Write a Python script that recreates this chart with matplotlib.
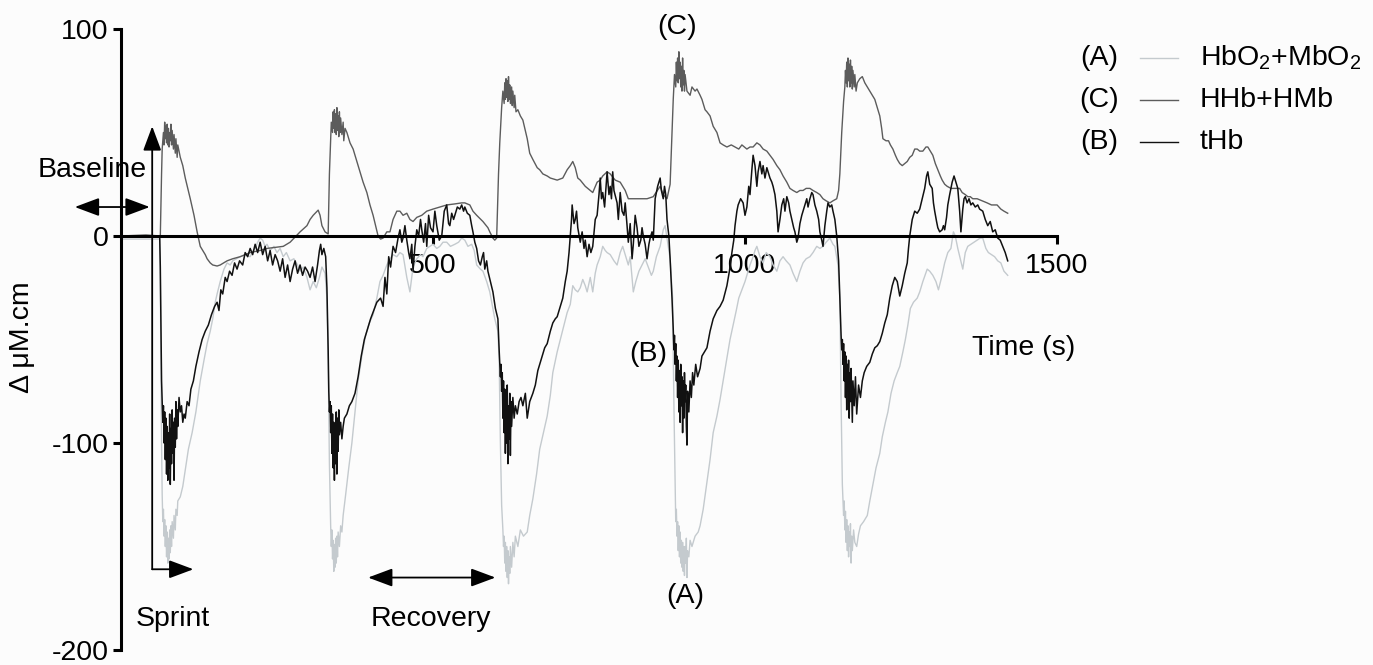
import matplotlib
matplotlib.use("Agg")
import matplotlib.pyplot as plt
from matplotlib.lines import Line2D

plt.rcParams["font.family"] = ["Liberation Sans", "DejaVu Sans"]
plt.rcParams["mathtext.fontset"] = "custom"
plt.rcParams["mathtext.rm"] = "Liberation Sans"
plt.rcParams["mathtext.it"] = "Liberation Sans:italic"
plt.rcParams["axes.unicode_minus"] = False

# ---- NIRS traces: (time s, delta uM.cm) ----
hbo2_pts = [
    (0, -1.5), (62, -1.5),
    (63, -20), (64, -60), (65, -100), (66, -125), (67, -138), (68, -132), (69, -145), (70, -137),
    (71, -150), (72, -140), (73, -155), (74, -143), (75, -158), (76, -146), (77, -156), (78, -142),
    (79, -153), (80, -140), (81, -150), (82, -138), (84, -146), (85, -135), (87, -142), (88, -132),
    (90, -135), (91, -128), (95, -126), (99, -121), (103, -113), (108, -103), (114, -95), (120, -85),
    (127, -70), (133, -60), (138, -52), (143, -46), (147, -40), (151, -32), (154, -28), (159, -22),
    (165, -16), (170, -13), (175, -14), (179, -12), (185, -11), (191, -10), (199, -9), (207, -10),
    (212, -7), (215, -6), (219, -3), (223, -1), (227, -2), (231, -5), (234, -4), (239, -7), (245, -5),
    (250, -8), (255, -6), (260, -10), (265, -8), (271, -12), (277, -11), (283, -14), (287, -17),
    (292, -15), (298, -20), (303, -26), (308, -22), (313, -25), (318, -20), (322, -15), (327, -18),
    (330, -30),
    (332, -60), (334, -110), (336, -140), (337, -150), (338, -142), (339, -156), (340, -147),
    (341, -162), (342, -149), (343, -160), (344, -146), (345, -158), (346, -145), (347, -155),
    (348, -143), (350, -150), (352, -140), (354, -143), (356, -135), (360, -125), (365, -112),
    (370, -100), (375, -85), (380, -70), (386, -58), (392, -48), (398, -42), (404, -38), (410, -30),
    (415, -22), (420, -19), (426, -14), (431, -11), (436, -9), (442, -10), (447, -8), (452, -9),
    (458, -20), (463, -27), (468, -15), (474, -11), (480, -9), (484, -10), (490, -6), (495, -5),
    (500, -4), (506, -6), (511, -5), (516, -3), (522, -3), (528, -5), (535, -4), (541, -3), (546, -1),
    (551, -2), (556, -5), (562, -4), (566, -7), (570, -14), (576, -16), (580, -17), (586, -22),
    (591, -27), (596, -35), (599, -40), (604, -46), (606, -60),
    (608, -100), (610, -130), (612, -142), (613, -150), (614, -145), (615, -158), (616, -148),
    (617, -162), (618, -150), (619, -165), (620, -152), (621, -168), (622, -155), (623, -163),
    (624, -150), (626, -160), (628, -148), (630, -155), (632, -145), (636, -150), (640, -142),
    (645, -145), (651, -143), (655, -135), (660, -127), (666, -115), (671, -103), (677, -95),
    (683, -87), (688, -77), (692, -66), (699, -56), (704, -50), (710, -43), (715, -37), (720, -33),
    (724, -24), (728, -26), (732, -27), (736, -25), (740, -21), (744, -24), (747, -27), (752, -20),
    (756, -27), (760, -18), (763, -14), (768, -10), (772, -5), (776, -7), (779, -8), (784, -9),
    (790, -12), (795, -14), (800, -8), (804, -5), (808, -9), (813, -14), (816, -10), (819, -20),
    (821, -27), (825, -22), (830, -17), (835, -14), (840, -11), (845, -15), (850, -19), (853, -17),
    (858, -10), (864, -5), (869, 3), (872, 5), (875, -1), (880, -11), (884, -30),
    (886, -80), (888, -120), (889, -138), (890, -132), (891, -145), (892, -138), (893, -152),
    (894, -140), (895, -155), (896, -143), (897, -158), (898, -147), (899, -160), (900, -148),
    (901, -162), (902, -150), (903, -164), (904, -150), (905, -158), (906, -146), (907, -165),
    (908, -152), (910, -155), (912, -147), (915, -150), (920, -145), (925, -143), (928, -140),
    (933, -132), (939, -119), (944, -108), (949, -95), (955, -87), (960, -79), (966, -68),
    (971, -59), (976, -50), (981, -43), (986, -36), (990, -30), (995, -26), (1000, -22), (1004, -18),
    (1008, -14), (1013, -10), (1016, -7), (1019, -5), (1024, -10), (1029, -13), (1034, -8),
    (1040, -10), (1045, -14), (1051, -17), (1056, -12), (1061, -10), (1066, -12), (1072, -14),
    (1077, -18), (1083, -22), (1088, -17), (1093, -13), (1098, -11), (1104, -10), (1109, -8),
    (1115, -5), (1120, -6), (1125, -5), (1130, -3), (1136, -1), (1141, -4), (1144, -5), (1149, -14),
    (1152, -30),
    (1154, -80), (1156, -120), (1158, -135), (1159, -128), (1160, -142), (1161, -133), (1162, -148),
    (1163, -137), (1164, -152), (1165, -140), (1166, -155), (1167, -143), (1168, -150), (1169, -139),
    (1170, -158), (1171, -145), (1172, -152), (1174, -142), (1176, -148), (1179, -150), (1182, -144),
    (1185, -140), (1190, -138), (1196, -135), (1200, -128), (1205, -120), (1210, -112), (1216, -105),
    (1220, -97), (1225, -90), (1229, -85), (1234, -76), (1239, -70), (1244, -66), (1248, -63),
    (1253, -56), (1257, -50), (1261, -43), (1265, -35), (1270, -32), (1276, -30), (1280, -27),
    (1285, -22), (1292, -16), (1296, -17), (1301, -19), (1306, -22), (1310, -26), (1315, -20),
    (1320, -13), (1325, -8), (1330, -6), (1334, 2), (1337, 0), (1341, -6), (1345, -11), (1349, -16),
    (1353, -8), (1357, -5), (1362, -4), (1367, -3), (1372, -2), (1377, -1), (1381, -1), (1386, -6),
    (1390, -8), (1395, -9), (1400, -10), (1405, -12), (1410, -13), (1415, -17), (1421, -19),
]

hhb_pts = [
    (0, 0), (40, 0.5), (62, 0),
    (63, 0), (65, 30), (66, 42), (68, 50), (69, 44), (70, 55), (71, 47), (72, 53), (73, 45), (74, 54),
    (75, 44), (76, 52), (77, 43), (78, 50), (79, 46), (80, 54), (81, 44), (82, 51), (84, 42), (85, 49),
    (87, 40), (88, 47), (90, 38), (91, 44), (95, 38), (99, 34), (103, 28), (111, 18), (117, 10),
    (122, 2), (127, -5), (135, -9), (138, -11), (143, -13), (147, -14), (154, -14.5), (159, -14),
    (170, -12), (179, -11), (191, -10), (207, -8), (223, -7), (234, -6), (247, -5.5), (260, -5),
    (271, -3), (287, 2), (298, 5), (303, 8), (308, 10), (316, 12.5), (319, 10), (322, 5), (327, 2),
    (332, 1),
    (334, 30), (337, 55), (339, 50), (340, 60), (341, 52), (342, 61), (343, 50), (344, 59), (345, 49),
    (346, 62), (347, 51), (348, 58), (349, 48), (350, 60), (351, 50), (352, 57), (354, 49), (356, 55),
    (357, 46), (359, 52), (362, 50), (367, 45), (372, 42), (378, 36), (383, 31), (388, 26), (394, 21),
    (399, 15), (404, 10), (408, 5), (412, 0), (416, -1.5), (420, -1), (426, 2), (431, 2), (436, 8),
    (442, 12), (447, 12), (452, 10), (458, 11), (463, 8), (468, 7), (474, 9), (482, 10), (490, 12),
    (500, 13), (511, 14), (522, 15), (535, 15.5), (546, 16), (551, 16), (559, 15), (564, 12),
    (570, 10), (580, 7), (588, 4), (591, 2), (596, -1), (599, -2), (602, -1),
    (605, 30), (607, 45), (610, 62), (612, 70), (614, 64), (615, 74), (616, 66), (617, 76), (618, 67),
    (619, 75), (620, 65), (621, 77), (622, 66), (623, 73), (624, 64), (626, 72), (627, 63), (628, 70),
    (630, 62), (631, 68), (633, 60), (636, 61), (640, 58), (644, 56), (651, 47), (655, 40), (660, 37),
    (667, 33), (671, 32), (676, 30), (683, 29), (688, 28), (699, 27), (708, 28), (715, 32), (720, 34),
    (724, 36), (728, 33), (732, 28), (736, 27), (744, 24), (752, 22), (756, 21), (763, 26), (768, 27),
    (772, 29), (779, 31), (784, 30), (792, 27), (800, 26), (808, 22), (813, 18), (821, 18), (832, 18),
    (843, 18), (853, 19), (864, 24), (869, 20), (875, 18), (880, 25),
    (883, 50), (885, 66), (887, 78), (889, 72), (890, 84), (891, 75), (892, 86), (893, 74), (894, 89),
    (895, 76), (896, 84), (897, 72), (898, 82), (899, 70), (900, 86), (901, 73), (902, 80), (903, 70),
    (904, 78), (907, 70), (912, 68), (915, 72), (920, 70), (923, 71), (928, 68), (931, 66), (936, 61),
    (939, 60), (944, 58), (949, 53), (955, 50), (960, 45), (965, 44), (971, 43), (978, 44), (984, 43),
    (990, 42), (995, 44), (1003, 42), (1008, 43), (1013, 43), (1019, 45), (1024, 44), (1029, 42),
    (1035, 41), (1040, 39), (1045, 37), (1051, 34), (1056, 32), (1061, 29), (1067, 26), (1072, 23),
    (1077, 22), (1083, 21), (1088, 22), (1093, 22), (1098, 23), (1104, 23), (1109, 22), (1115, 21),
    (1120, 20), (1125, 18), (1130, 17), (1136, 16), (1141, 17), (1147, 18), (1150, 22), (1152, 30),
    (1155, 50), (1158, 65), (1160, 72), (1161, 80), (1162, 74), (1163, 84), (1164, 72), (1165, 86),
    (1166, 75), (1167, 83), (1168, 72), (1169, 85), (1170, 74), (1171, 82), (1172, 71), (1173, 80),
    (1175, 72), (1176, 78), (1178, 70), (1180, 74), (1184, 76), (1188, 77), (1192, 74), (1196, 72),
    (1200, 70), (1204, 68), (1208, 66), (1212, 62), (1216, 58), (1219, 52), (1221, 47), (1226, 46),
    (1230, 46), (1233, 44), (1237, 42), (1241, 39), (1244, 37), (1248, 35), (1252, 34), (1256, 35),
    (1260, 36), (1264, 38), (1268, 39), (1272, 42), (1276, 42), (1280, 41), (1285, 41), (1290, 43),
    (1293, 43), (1297, 41), (1301, 39), (1305, 35), (1309, 32), (1313, 29), (1316, 27), (1320, 25),
    (1324, 24), (1330, 23), (1337, 23), (1344, 23), (1348, 21), (1353, 20), (1357, 19), (1361, 19),
    (1365, 18), (1372, 18), (1380, 17), (1388, 16), (1395, 15), (1404, 15), (1410, 13), (1415, 12),
    (1421, 11),
]

thb_pts = [
    (0, 0), (62, 0),
    (63, -15), (64, -45), (65, -70), (66, -80), (67, -90), (68, -82), (69, -100), (70, -85), (71, -108),
    (72, -88), (73, -115), (74, -92), (75, -118), (76, -95), (77, -112), (78, -86), (79, -120),
    (80, -93), (81, -110), (82, -84), (83, -105), (84, -90), (85, -118), (86, -88), (87, -102),
    (88, -80), (89, -98), (90, -84), (91, -92), (93, -78), (95, -85), (97, -82), (99, -90), (101, -86),
    (103, -88), (106, -80), (109, -82), (112, -74), (116, -70), (120, -63), (125, -56), (130, -50),
    (135, -46), (140, -43), (145, -38), (150, -34), (154, -32), (157, -36), (160, -26), (163, -28),
    (167, -20), (170, -22), (174, -17), (178, -19), (182, -13), (186, -16), (190, -12), (195, -14),
    (199, -8), (203, -10), (207, -6), (211, -9), (215, -4), (219, -8), (223, -3), (227, -9), (231, -5),
    (235, -12), (239, -7), (243, -14), (247, -9), (251, -12), (255, -17), (259, -11), (263, -20),
    (267, -14), (271, -22), (275, -16), (279, -12), (283, -18), (287, -14), (291, -19), (295, -15),
    (299, -17), (303, -20), (307, -15), (311, -22), (315, -14), (318, -7), (320, -4), (322, -9),
    (325, -6), (328, -10), (330, -25),
    (332, -55), (333, -75), (334, -85), (335, -80), (336, -95), (337, -82), (338, -105), (339, -86),
    (340, -112), (341, -90), (342, -118), (343, -92), (344, -110), (345, -85), (346, -115), (347, -88),
    (348, -104), (349, -84), (350, -96), (352, -90), (354, -98), (356, -92), (358, -88), (362, -86),
    (366, -82), (370, -80), (375, -76), (380, -68), (385, -58), (390, -50), (395, -45), (400, -40),
    (405, -36), (410, -32), (416, -30), (420, -34), (423, -20), (426, -28), (429, -10), (432, -15),
    (436, -5), (440, -8), (444, -1), (447, 3), (450, -3), (452, -1), (455, 5), (458, -2), (461, -8),
    (463, -11), (466, -4), (468, -17), (471, -5), (474, 3), (477, 0), (480, 8), (482, 3), (485, -3),
    (488, 6), (490, -5), (493, 10), (496, 4), (500, 2), (503, 12), (506, 5), (510, -2), (514, 0),
    (518, 12), (522, 15), (525, 6), (527, 5), (530, 11), (533, 8), (535, 10), (539, 14), (543, 13),
    (546, 15), (549, 12), (551, 14), (555, 11), (559, 10), (562, 5), (564, 2), (567, -3), (570, -6),
    (573, -12), (576, -14), (579, -10), (581, -8), (583, -16), (586, -12), (588, -17), (592, -22),
    (596, -27), (600, -35), (604, -40), (606, -55),
    (608, -68), (609, -62), (610, -75), (611, -66), (612, -88), (613, -70), (614, -95), (615, -74),
    (616, -105), (617, -78), (618, -100), (619, -72), (620, -110), (621, -82), (622, -98), (623, -76),
    (624, -106), (625, -80), (626, -92), (628, -78), (630, -88), (632, -82), (635, -86), (638, -80),
    (641, -78), (644, -82), (648, -76), (651, -88), (655, -80), (660, -76), (664, -72), (668, -65),
    (671, -62), (675, -58), (679, -54), (683, -52), (688, -46), (692, -42), (696, -40), (699, -39),
    (704, -34), (708, -30), (712, -22), (715, -17), (718, -8), (720, 0), (722, 8), (723, 15), (726, 6),
    (728, 8), (730, 12), (732, 4), (736, -3), (739, 2), (742, -6), (744, -2), (747, -10), (750, -4),
    (753, -8), (756, -5), (760, 8), (763, 10), (766, 20), (768, 28), (770, 18), (772, 21), (775, 14),
    (779, 31), (782, 20), (784, 24), (786, 18), (788, 31), (790, 22), (795, 16), (797, 8), (800, 21),
    (803, 12), (806, 10), (808, 16), (811, 5), (813, -3), (816, 6), (819, -11), (821, -4), (824, 10),
    (827, 4), (830, -5), (833, -2), (835, 4), (837, 0), (840, -4), (843, -11), (846, -4), (848, -1),
    (851, 2), (853, -2), (856, 18), (860, 24), (864, 28), (866, 22), (869, 18), (871, 24), (873, 20),
    (875, 8), (878, 0), (880, -11), (883, -30), (885, -45),
    (886, -55), (887, -48), (888, -62), (889, -52), (890, -70), (891, -58), (892, -78), (893, -60),
    (894, -85), (895, -65), (896, -90), (897, -62), (898, -82), (899, -68), (900, -95), (901, -70),
    (902, -88), (903, -66), (904, -80), (905, -72), (906, -92), (907, -101), (908, -75), (910, -85),
    (912, -70), (914, -78), (916, -66), (918, -72), (921, -62), (924, -68), (928, -64), (931, -58),
    (935, -56), (939, -54), (944, -46), (949, -40), (955, -36), (960, -34), (965, -31), (971, -24),
    (975, -17), (979, -8), (982, -2), (984, 5), (987, 12), (989, 15), (993, 18), (997, 16), (1000, 10),
    (1003, 14), (1006, 24), (1008, 20), (1011, 32), (1013, 39), (1016, 34), (1019, 24), (1021, 31),
    (1024, 36), (1027, 30), (1029, 34), (1032, 28), (1035, 33), (1037, 31), (1040, 28), (1043, 26),
    (1045, 24), (1048, 20), (1051, 12), (1053, 2), (1056, 8), (1059, 15), (1062, 18), (1064, 12),
    (1067, 19), (1070, 16), (1072, 12), (1075, 8), (1078, 4), (1080, 2), (1083, -3), (1085, -1),
    (1088, 6), (1091, 10), (1093, 12), (1096, 15), (1099, 18), (1101, 14), (1104, 18), (1107, 21),
    (1109, 20), (1112, 15), (1115, 12), (1118, 8), (1120, 2), (1123, -2), (1125, -5), (1128, 5),
    (1131, 12), (1133, 16), (1136, 14), (1139, 15), (1141, 12), (1144, 8), (1147, 0), (1150, -12),
    (1152, -30),
    (1154, -48), (1155, -55), (1156, -50), (1157, -62), (1158, -52), (1159, -70), (1160, -56),
    (1161, -78), (1162, -58), (1163, -84), (1164, -62), (1165, -75), (1166, -60), (1167, -88),
    (1168, -66), (1169, -80), (1170, -64), (1172, -90), (1173, -70), (1175, -82), (1177, -68),
    (1179, -86), (1182, -72), (1185, -78), (1188, -70), (1191, -66), (1195, -63), (1200, -61),
    (1204, -57), (1208, -54), (1212, -53), (1216, -51), (1220, -47), (1224, -42), (1228, -38),
    (1232, -30), (1236, -24), (1240, -20), (1244, -22), (1248, -29), (1252, -24), (1256, -18),
    (1260, -13), (1262, -6), (1264, 0), (1268, 8), (1272, 12), (1276, 11), (1280, 13), (1284, 18),
    (1288, 23), (1291, 29), (1293, 31), (1296, 25), (1300, 23), (1302, 16), (1304, 12), (1307, 7),
    (1309, 4), (1312, 2), (1316, 3), (1318, 5), (1320, 3), (1323, 9), (1325, 15), (1328, 20),
    (1332, 26), (1335, 29), (1337, 27), (1341, 23), (1344, 12), (1346, 2), (1349, 13), (1351, 18),
    (1353, 19), (1356, 16), (1359, 18), (1362, 15), (1365, 16), (1369, 14), (1373, 15), (1376, 13),
    (1381, 12), (1385, 8), (1389, 5), (1393, 7), (1397, 2), (1401, 3), (1405, -1), (1409, -2),
    (1413, -5), (1417, -8), (1421, -12),
]

legend_tags = ["(A)", "(C)", "(B)"]
legend_names = ["HbO$_2$+MbO$_2$", "HHb+HMb", "tHb"]
x_ticks = [500, 1000, 1500]
y_ticks = [100, 0, -100, -200]

COL_A = "#c4cace"
COL_C = "#5c5c5c"
COL_B = "#111111"
FS = 20.5

fig = plt.figure(figsize=(13.73, 6.65), dpi=100, facecolor="#fcfcfc")
ax = fig.add_axes([121 / 1373, 1 - 650 / 665, (1057 - 121) / 1373, (650 - 29) / 665])
ax.set_facecolor("none")

for pts, col, lw in ((hbo2_pts, COL_A, 1.0), (hhb_pts, COL_C, 1.0), (thb_pts, COL_B, 1.1)):
    t, v = zip(*pts)
    ax.plot(t, v, color=col, lw=lw, zorder=2)

ax.set_xlim(0, 1500)
ax.set_ylim(-200, 100)
ax.spines["top"].set_visible(False)
ax.spines["right"].set_visible(False)
ax.spines["bottom"].set_position(("data", 0))
for s in ("left", "bottom"):
    ax.spines[s].set_linewidth(2.2)
    ax.spines[s].set_zorder(3)
ax.set_xticks(x_ticks)
ax.set_yticks(y_ticks)
ax.tick_params(axis="both", direction="out", length=6, width=2.2, labelsize=FS)
ax.tick_params(axis="x", pad=6)
ax.tick_params(axis="y", pad=3)

fig.text(22 / 1373, 1 - 337 / 665, "Δ μM.cm", rotation=90, ha="center", va="center", fontsize=FS)

# annotations
def arrow(xy_from, xy_to, style):
    ax.annotate("", xy=xy_to, xytext=xy_from, annotation_clip=False,
                arrowprops=dict(arrowstyle=style + ",head_length=0.75,head_width=0.28",
                                mutation_scale=20, color="black", lw=1.3,
                                shrinkA=0, shrinkB=0))

arrow((-74, 14), (46, 14), "<|-|>")
arrow((50, -161), (50, 53), "-|>")
arrow((50, -161), (116, -161), "-|>")
arrow((396, -165), (600, -165), "<|-|>")

ax.text(-133, 32, "Baseline", fontsize=FS, ha="left", va="center", clip_on=False)
ax.text(83, -185, "Sprint", fontsize=FS, ha="center", va="center", clip_on=False)
ax.text(497, -185, "Recovery", fontsize=FS, ha="center", va="center", clip_on=False)
ax.text(891, 101, "(C)", fontsize=FS, ha="center", va="center", clip_on=False)
ax.text(845, -57, "(B)", fontsize=FS, ha="center", va="center", clip_on=False)
ax.text(905, -174, "(A)", fontsize=FS, ha="center", va="center", clip_on=False)
ax.text(1446, -54, "Time (s)", fontsize=FS, ha="center", va="center", clip_on=False)

# legend drawn by hand
for i, (tag, name, col) in enumerate(zip(legend_tags, legend_names, (COL_A, COL_C, COL_B))):
    yc = 1 - (58 + 42 * i) / 665
    fig.text(1099 / 1373, yc, tag, fontsize=FS, ha="center", va="center")
    fig.add_artist(Line2D([1140 / 1373, 1178 / 1373], [yc, yc], color=col, lw=1.0,
                          transform=fig.transFigure))
    fig.text(1200 / 1373, yc, name, fontsize=FS, ha="left", va="center")

fig.savefig("out.png", dpi=100, facecolor=fig.get_facecolor())
